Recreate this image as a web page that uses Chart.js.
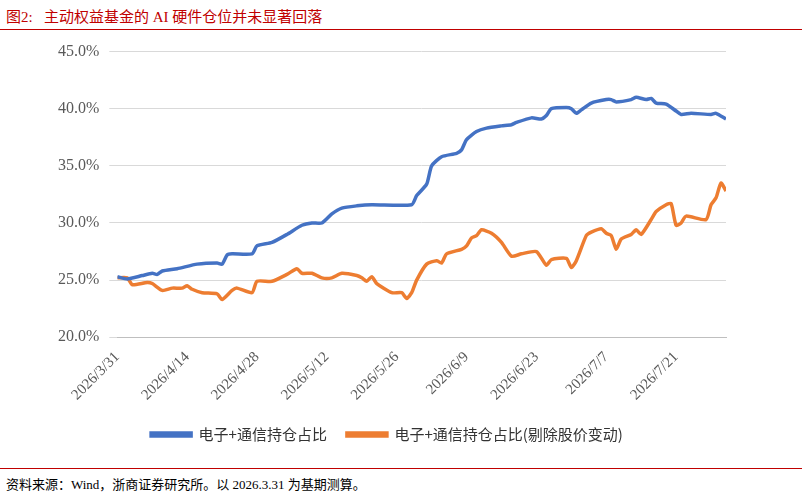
<!DOCTYPE html>
<html lang="zh">
<head>
<meta charset="UTF-8">
<script src="https://cdn.jsdelivr.net/npm/chart.js"></script>
<style>
  body { margin: 0; width: 802px; height: 500px; background: #fff; font-family: "Liberation Serif", "Noto Sans CJK SC", serif; position: relative; overflow: hidden; }
  #title { position: absolute; left: 6px; top: 5px; font-size: 15px; color: #c00000; }
  #tline { position: absolute; left: 0; top: 29px; width: 802px; height: 1px; background: #c00000; }
  #wrap { position: absolute; left: 0; top: 32px; width: 802px; height: 420px; }
  #bline { position: absolute; left: 0; top: 468px; width: 802px; height: 1px; background: #c00000; }
  #src { position: absolute; left: 6px; top: 474px; font-size: 13px; color: #000; }
</style>
</head>
<body>
<div id="title">图2:&nbsp;&nbsp;&nbsp;主动权益基金的 AI 硬件仓位并未显著回落</div>
<div id="tline"></div>
<div id="wrap"><canvas id="c"></canvas></div>
<div id="bline"></div>
<div id="src">资料来源：Wind，浙商证券研究所。以 2026.3.31 为基期测算。</div>
<script>
// day offsets from 2026/3/31
const blueDays = [0,2,5,7,8,9,12,16,20,21,22,23,27,28,31,34,37,39,41,43,45,48,51,59,60,62,63,65,68,69,70,72,74,77,79,80,83,85,86,87,90,91,92,93,95,98,99,100,103,104,106,107,108,110,112,113,115,119,120,122];
const blueVals = [25.3,25.1,25.4,25.6,25.5,25.8,26.0,26.4,26.5,26.4,27.2,27.3,27.3,28.0,28.3,29.0,29.8,30.0,30.0,30.8,31.3,31.5,31.6,31.6,32.4,33.4,35.0,35.8,36.1,36.4,37.3,38.0,38.3,38.5,38.6,38.8,39.2,39.1,39.4,40.0,40.1,40.0,39.6,39.9,40.5,40.8,40.8,40.6,40.8,41.0,40.8,40.9,40.5,40.4,39.8,39.5,39.6,39.5,39.6,39.1];
const orangeDays = [0,2,3,6,7,9,11,13,14,15,17,20,21,23,24,27,28,31,34,36,37,39,41,43,45,48,49,50,51,52,55,57,58,59,60,62,64,65,66,69,70,71,72,73,75,77,79,81,84,86,87,90,91,92,94,95,97,98,99,100,101,103,104,105,107,108,110,111,112,113,114,118,119,120,121,122];
const orangeVals = [25.2,25.2,24.6,24.8,24.7,24.1,24.3,24.3,24.5,24.2,23.9,23.8,23.3,24.1,24.3,23.9,24.9,24.9,25.5,26.0,25.6,25.6,25.2,25.2,25.6,25.4,25.2,24.9,25.3,24.7,23.9,23.9,23.4,23.9,25.0,26.4,26.7,26.5,27.3,27.7,28.0,28.7,28.9,29.4,29.1,28.3,27.1,27.3,27.5,26.3,26.8,26.9,26.1,26.7,28.9,29.2,29.5,29.1,28.9,27.7,28.6,29.0,29.4,29.0,30.3,31.0,31.6,31.7,29.8,30.0,30.6,30.3,31.6,32.2,33.5,32.8];
const legendLabels = ['电子+通信持仓占比', '电子+通信持仓占比(剔除股价变动)'];
const baseDate = new Date(2026, 2, 31);

const toXY = (d, v) => d.map((x, i) => ({ x: x, y: v[i] }));
const dayLabel = d => {
  const t = new Date(baseDate.getTime() + d * 86400000);
  return t.getFullYear() + '/' + (t.getMonth() + 1) + '/' + t.getDate();
};

new Chart(document.getElementById('c'), {
  type: 'line',
  data: {
    datasets: [
      { label: legendLabels[0], data: toXY(blueDays, blueVals), borderColor: '#4472c4', borderWidth: 3.5, pointRadius: 0, tension: 0.2 },
      { label: legendLabels[1], data: toXY(orangeDays, orangeVals), borderColor: '#ed7d31', borderWidth: 3.5, pointRadius: 0, tension: 0.2 }
    ]
  },
  options: {
    animation: false,
    responsive: true,
    maintainAspectRatio: false,
    layout: { padding: { left: 48, right: 76, top: 17, bottom: 0 } },
    plugins: {
      legend: {
        position: 'bottom',
        labels: { boxWidth: 40, boxHeight: 3, color: '#333', font: { size: 15, family: '"Noto Sans CJK SC", sans-serif' }, padding: 20 }
      },
      tooltip: { enabled: false }
    },
    scales: {
      x: {
        type: 'linear', min: 0, max: 122,
        grid: { display: false },
        border: { color: '#bfbfbf' },
        ticks: { stepSize: 14, callback: v => dayLabel(v), maxRotation: 45, minRotation: 45, color: '#595959', font: { size: 15, family: '"Liberation Serif", serif' } },
        afterBuildTicks: a => { a.ticks = [0,14,28,42,56,70,84,98,112].map(v => ({ value: v })); }
      },
      y: {
        min: 20, max: 45,
        border: { display: false },
        grid: { color: '#d9d9d9' },
        ticks: { stepSize: 5, callback: v => v.toFixed(1) + '%', color: '#595959', font: { size: 16, family: '"Liberation Serif", serif' }, padding: 10 }
      }
    }
  }
});
</script>
</body>
</html>
